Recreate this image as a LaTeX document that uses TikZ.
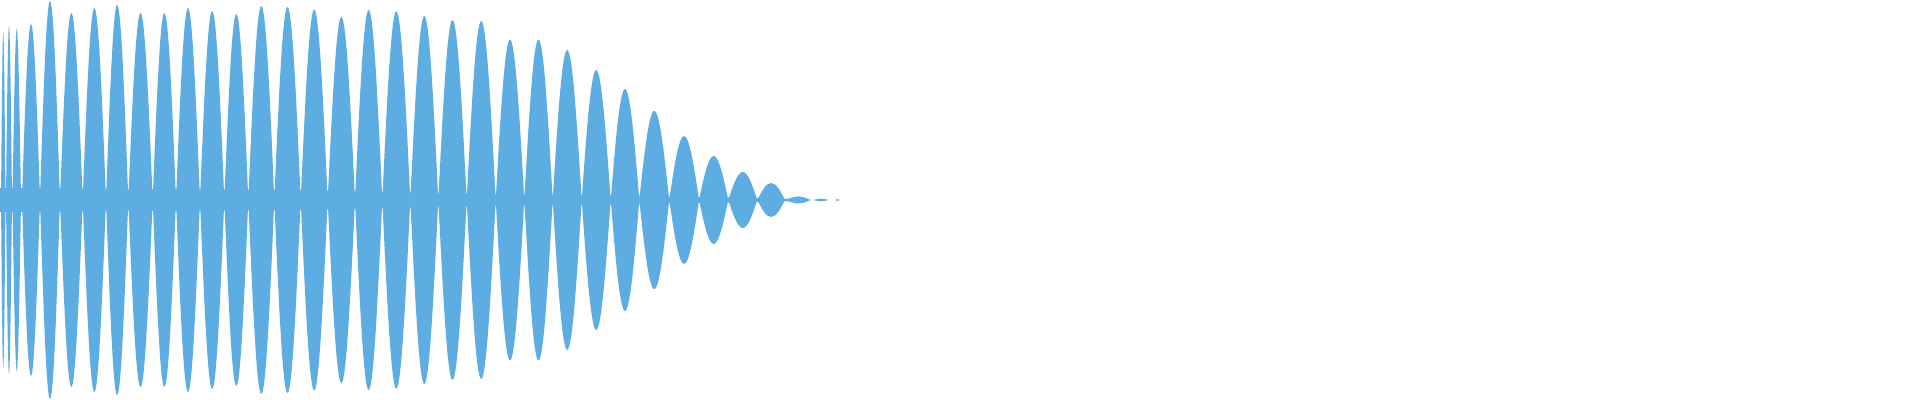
\documentclass[tikz,border=0pt]{standalone}
\definecolor{wave}{RGB}{93,173,226}
\definecolor{white}{RGB}{255,255,255}
\usepackage{tikz}
\tikzstyle{base}=[x=0.01cm, y=0.01cm, inner sep=0pt, outer sep=0pt]
\tikzstyle{lobe}=[fill=wave, draw=none]
\begin{document}
\begin{tikzpicture}[base]
    \fill [white] (0,-200) rectangle (1920,200);
    \fill [lobe] (0,12) -- (300,10) -- (440,7) -- (640,4) -- (760,2) -- (805,0.8)
        -- (805,-0.8) -- (760,-2) -- (640,-4) -- (440,-7) -- (300,-10) -- (0,-12) -- cycle;
    \foreach \a/\b/\h in {1/5.5/168, 6/12/174, 12.5/21/171, 22/40/176, 40/60/199,
        60/82.7/187, 82.7/106/192, 106/128.3/195, 128.3/152.7/187, 152.7/176/187,
        176/200/192, 200/224.3/189, 224.3/248.3/186, 248.3/274.3/194, 274.3/300.7/193,
        300.7/327.7/190.5, 327.7/355/183, 355/382.3/190, 382.3/410.3/188.7, 410.3/438.3/184,
        438.3/466.7/180, 466.7/495.7/179, 495.7/524.3/160.5, 524.3/552.7/160.5, 552.7/581.7/150,
        581.7/610.7/130, 610.7/639.3/111, 639.3/669.2/89, 669.2/699/64, 699/728.3/44,
        728.3/757.3/28, 757.3/785/17, 786/810.5/3.5, 813/829/1.2, 835/840/0.8}
        \fill [lobe] (\a,0) sin ({(\a+\b)/2},\h) cos (\b,0)
            sin ({(\a+\b)/2},-\h) cos (\a,0) -- cycle;
    \path [use as bounding box] (0,-200) rectangle (1920,200);
\end{tikzpicture}
\end{document}
